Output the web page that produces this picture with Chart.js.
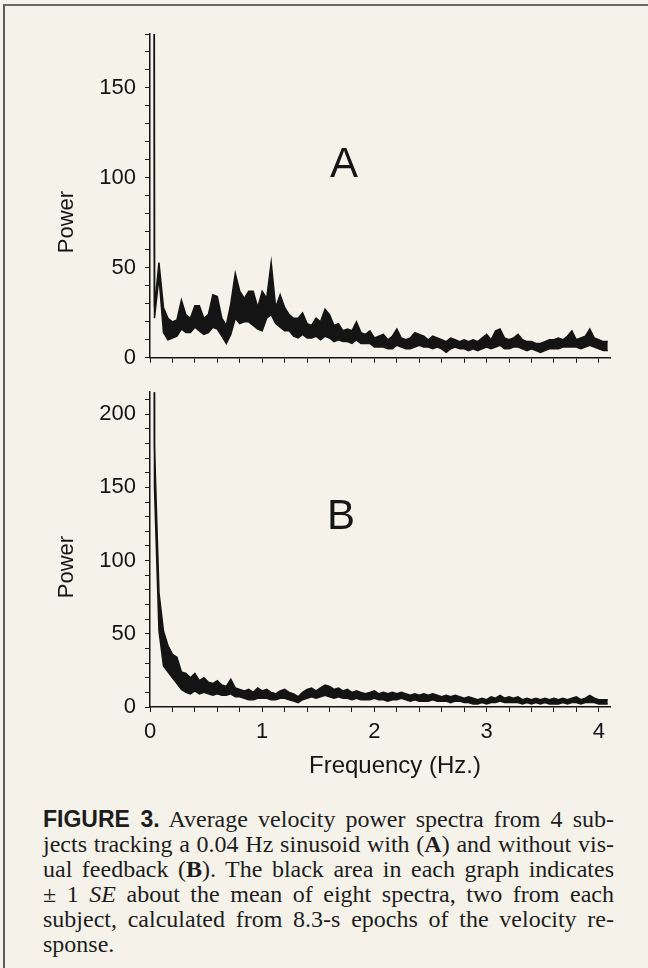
<!DOCTYPE html>
<html>
<head>
<meta charset="utf-8">
<script src="https://cdn.jsdelivr.net/npm/chart.js@4/dist/chart.umd.min.js"></script>
<style>
    body { margin: 0; width: 648px; height: 968px; background: #f5f2ea; position: relative; overflow: hidden; }
    .frame { position: absolute; left: 3px; top: 4px; width: 660px; height: 962px; border-left: 2px solid #5a5a5a; border-top: 2px solid #6a6a6a; border-bottom: 2px solid #7a7a7a; }
    .panel { position: absolute; left: 0; }
    .lbl { position: absolute; font-family: "Liberation Sans", Arial, sans-serif; color: #161616; white-space: nowrap; line-height: 1; }
    .letter { font-size: 42px; transform: translate(-50%, -50%); }
    .power { font-size: 22px; transform: translate(-50%, -50%) rotate(-90deg); }
    .xtitle { font-size: 24px; transform: translate(-50%, -50%); }
    .caption { position: absolute; left: 43px; top: 807px; width: 571px; font-family: "Liberation Serif", "Times New Roman", serif; font-size: 24px; color: #1d1d1d; }
    .caption div { height: 25px; line-height: 25px; white-space: nowrap; text-align: justify; text-align-last: justify; }
    .caption div.last { text-align-last: left; }
    .fig { font-family: "Liberation Sans", Arial, sans-serif; font-weight: bold; font-size: 23px; }
</style>
</head>
<body>
<div class="frame"></div>

<div class="panel" style="top:0;"><canvas id="spectrumA" width="648" height="380"></canvas></div>
<div class="panel" style="top:370px;"><canvas id="spectrumB" width="648" height="420"></canvas></div>

<div class="lbl letter" style="left:344px;top:163px;">A</div>
<div class="lbl letter" style="left:341px;top:515px;">B</div>
<div class="lbl power" style="left:66px;top:222px;">Power</div>
<div class="lbl power" style="left:66px;top:567px;">Power</div>
<div class="lbl xtitle" style="left:395px;top:765px;">Frequency (Hz.)</div>

<div class="caption">
    <div><span class="fig">FIGURE 3.</span> Average velocity power spectra from 4 sub-</div>
    <div>jects tracking a 0.04 Hz sinusoid with (<b>A</b>) and without vis-</div>
    <div>ual feedback (<b>B</b>). The black area in each graph indicates</div>
    <div>± 1 <i>SE</i> about the mean of eight spectra, two from each</div>
    <div>subject, calculated from 8.3-s epochs of the velocity re-</div>
    <div class="last">sponse.</div>
</div>

<script>
// frequency bins (Hz) - first bin is the 0.04 Hz target spike
const freqHz = [
    0.03, 0.04, 0.08, 0.12, 0.16, 0.2, 0.24, 0.28, 0.32, 0.36, 0.4, 0.44, 0.48, 0.52, 0.56, 0.6, 0.64, 0.68, 0.72, 0.76, 0.8, 0.84, 0.88, 0.92, 0.96, 1.0,
    1.04, 1.08, 1.12, 1.16, 1.2, 1.24, 1.28, 1.32, 1.36, 1.4, 1.44, 1.48, 1.52, 1.56, 1.6, 1.64, 1.68, 1.72, 1.76, 1.8, 1.84, 1.88, 1.92, 1.96, 2.0,
    2.04, 2.08, 2.12, 2.16, 2.2, 2.24, 2.28, 2.32, 2.36, 2.4, 2.44, 2.48, 2.52, 2.56, 2.6, 2.64, 2.68, 2.72, 2.76, 2.8, 2.84, 2.88, 2.92, 2.96, 3.0,
    3.04, 3.08, 3.12, 3.16, 3.2, 3.24, 3.28, 3.32, 3.36, 3.4, 3.44, 3.48, 3.52, 3.56, 3.6, 3.64, 3.68, 3.72, 3.76, 3.8, 3.84, 3.88, 3.92, 3.96, 4.0,
    4.04, 4.08
];

// A: with visual feedback, mean +1 SE / -1 SE
const powerAUpper = [
    900, 28, 53, 28, 22, 20, 21, 32, 24, 22, 29, 29, 22, 24, 35, 34, 22, 18, 30, 47, 37, 33, 37, 37, 28, 37,
    33, 53, 28, 35, 28, 24, 22, 22, 25, 19, 18, 22, 20, 27, 24, 18, 19, 15, 16, 15, 20, 14, 13, 15, 11,
    12, 13, 10, 12, 16, 11, 10, 11, 14, 13, 12, 10, 12, 11, 10, 9, 11, 10, 9, 10, 9, 10, 9, 11, 13,
    10, 15, 16, 11, 10, 11, 13, 10, 9, 9, 8, 8, 9, 10, 10, 11, 10, 12, 15, 10, 11, 12, 16, 11, 10,
    9, 9
];
const powerALower = [
    900, 22, 45, 14, 10, 11, 12, 16, 14, 14, 17, 15, 13, 14, 17, 16, 12, 8, 13, 22, 19, 20, 20, 18, 16, 15,
    22, 24, 19, 17, 15, 15, 12, 11, 13, 11, 11, 12, 10, 12, 11, 9, 10, 9, 9, 8, 10, 8, 8, 8, 6,
    6, 6, 5, 5, 7, 6, 5, 5, 6, 7, 6, 6, 5, 6, 5, 3, 5, 6, 5, 5, 4, 5, 4, 5, 6,
    5, 6, 7, 5, 5, 6, 6, 5, 4, 5, 4, 3, 4, 5, 5, 5, 6, 6, 6, 6, 5, 6, 7, 6, 5,
    4, 4
];

// B: without visual feedback
const powerBUpper = [
    1200, 178, 78, 52, 42, 36, 34, 24, 23, 20, 23, 18, 20, 17, 16, 18, 15, 14, 19, 13, 12, 11, 12, 10, 13, 11,
    12, 10, 9, 11, 12, 10, 9, 7, 10, 12, 13, 11, 13, 15, 14, 12, 13, 11, 12, 10, 11, 10, 9, 10, 11,
    9, 10, 9, 10, 9, 10, 9, 8, 9, 8, 9, 8, 9, 8, 7, 8, 7, 8, 7, 6, 7, 6, 5, 6, 5,
    7, 6, 8, 6, 7, 6, 7, 5, 6, 5, 6, 5, 6, 5, 6, 5, 6, 5, 6, 7, 5, 6, 8, 6, 5,
    5, 5
];
const powerBLower = [
    1200, 150, 52, 28, 24, 20, 16, 12, 10, 9, 11, 9, 10, 9, 8, 9, 8, 8, 9, 7, 7, 6, 5, 5, 6, 6,
    6, 5, 5, 6, 6, 5, 4, 3, 5, 6, 7, 6, 7, 8, 7, 6, 7, 6, 6, 5, 6, 5, 5, 5, 6,
    5, 5, 4, 5, 5, 6, 5, 4, 5, 4, 4, 4, 5, 4, 4, 4, 3, 4, 4, 3, 3, 2, 2, 3, 2,
    3, 3, 4, 3, 3, 3, 3, 2, 3, 2, 3, 2, 3, 2, 2, 2, 3, 2, 3, 3, 2, 3, 3, 3, 2,
    2, 2
];

const freqMax = 4.1;
const ink = '#141414';
const tickFont = { family: '"Liberation Sans", Arial, sans-serif', size: 22 };

function toPoints(values) {
    return freqHz.map((f, i) => ({ x: f, y: values[i] }));
}

function isWhole(v) {
    return Math.abs(v - Math.round(v)) < 1e-6;
}

function drawSpectrum(canvasId, upper, lower, yMax, showFreqLabels, padTop, xAxisHeight) {
    const ctx = document.getElementById(canvasId).getContext('2d');
    return new Chart(ctx, {
        type: 'line',
        data: {
            datasets: [
                { data: toPoints(upper), borderColor: ink, backgroundColor: ink, borderWidth: 1.5, fill: '+1', pointRadius: 0, tension: 0 },
                { data: toPoints(lower), borderColor: ink, borderWidth: 1.5, fill: false, pointRadius: 0, tension: 0 }
            ]
        },
        options: {
            responsive: false,
            animation: false,
            layout: { padding: { top: padTop, right: 38, left: 0, bottom: 0 } },
            plugins: { legend: { display: false }, tooltip: { enabled: false } },
            scales: {
                x: {
                    type: 'linear',
                    min: 0,
                    max: freqMax,
                    border: { display: true, color: ink, width: 1.5 },
                    grid: { drawOnChartArea: false, drawTicks: true, tickLength: 5, color: ink, lineWidth: 1 },
                    ticks: {
                        stepSize: 0.2, autoSkip: false, maxRotation: 0, includeBounds: false,
                        padding: 7, color: ink, font: tickFont,
                        callback: v => (showFreqLabels && isWhole(v)) ? String(Math.round(v)) : ''
                    },
                    afterFit: scale => { scale.height = xAxisHeight; }
                },
                y: {
                    min: 0,
                    max: yMax,
                    border: { display: true, color: ink, width: 1.5 },
                    grid: { drawOnChartArea: false, drawTicks: true, tickLength: 5, color: ink, lineWidth: 1 },
                    ticks: {
                        stepSize: 10, autoSkip: false, includeBounds: false,
                        padding: 9, color: ink, font: tickFont,
                        callback: v => (Math.round(v) % 50 === 0) ? String(Math.round(v)) : ''
                    },
                    afterFit: scale => { scale.width = 150; }
                }
            }
        }
    });
}

document.addEventListener('DOMContentLoaded', () => {
    drawSpectrum('spectrumA', powerAUpper, powerALower, 180, false, 34, 18);
    drawSpectrum('spectrumB', powerBUpper, powerBLower, 215, true, 20, 83);
});
</script>
</body>
</html>
